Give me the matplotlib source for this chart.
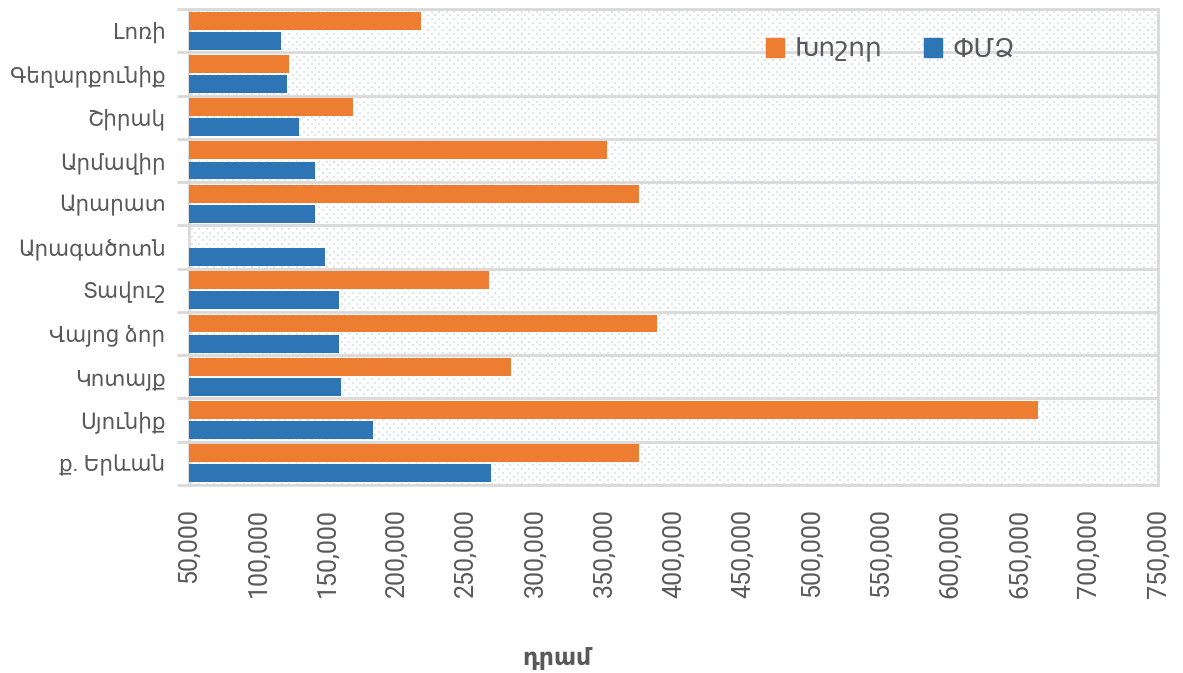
import numpy as np
import matplotlib
matplotlib.use("Agg")
import matplotlib.pyplot as plt
from matplotlib.patches import Patch
from matplotlib.ticker import FuncFormatter

plt.rcParams['font.family'] = ['Roboto', 'DejaVu Sans']

# ---- data ----
categories = ["Լոռի", "Գեղարքունիք", "Շիրակ", "Արմավիր", "Արարատ", "Արագածոտն",
              "Տավուշ", "Վայոց ձոր", "Կոտայք", "Սյունիք", "ք. Երևան"]
large = [217800, 122300, 168600, 352300, 375400, np.nan,
         266900, 388400, 282800, 663200, 375400]          # Խոշոր
sme = [116500, 120900, 129500, 141100, 141100, 148300,
       158500, 158500, 159900, 183100, 268400]            # ՓՄՁ
series_names = ["Խոշոր", "ՓՄՁ"]
xticks = list(range(50000, 750001, 50000))
xlabel = "դրամ"

ORANGE = "#ED7D31"
BLUE = "#2E75B6"
TXT = "#595959"
GRID = "#D9D9D9"

W, H = 1183, 673
fig = plt.figure(figsize=(W / 100, H / 100), dpi=100)
L, R, T, B = 189, 1158, 9, 485
ax = fig.add_axes([L / W, (H - B) / H, (R - L) / W, (B - T) / H])

# dotted background texture
aw, ah = R - L, B - T
bg = np.ones((ah, aw, 3))
dot = np.array([218, 230, 244]) / 255.0
per = 7.5
ys = np.arange(0, ah, per / 2)
for k, yy in enumerate(ys):
    off = 0 if k % 2 == 0 else per / 2
    for xx in np.arange(off, aw, per):
        yi, xi = int(yy) + 2, int(xx) + 2
        bg[yi:yi + 2, xi:xi + 2] = dot
ax.imshow(bg, extent=[0, 1, 0, 1], transform=ax.transAxes, aspect='auto',
          interpolation='nearest', zorder=0)

n = len(categories)
y = np.arange(n)
h = 0.415
off = 0.232
ax.barh(y - off, large, height=h, color=ORANGE, zorder=3, label=series_names[0])
ax.barh(y + off, sme, height=h, color=BLUE, zorder=3, label=series_names[1])

ax.set_xlim(50000, 750000)
ax.set_ylim(n - 0.5, -0.5)

ax.set_xticks(xticks)
ax.xaxis.set_major_formatter(FuncFormatter(lambda v, p: f"{int(v):,}"))
ax.tick_params(axis='x', length=0, pad=17, labelsize=18, labelcolor=TXT,
               labelrotation=90)

ax.set_yticks(y)
ax.set_yticklabels(categories)
ax.tick_params(axis='y', which='major', length=0, pad=17, labelsize=15.5,
               labelcolor=TXT)
ax.set_yticks(np.arange(-0.5, n, 1), minor=True)
ax.tick_params(axis='y', which='minor', length=9, width=2, color=GRID)
ax.grid(axis='y', which='minor', color=GRID, linewidth=2, zorder=1)
ax.grid(axis='x', visible=False)
ax.set_axisbelow(True)

for s in ax.spines.values():
    s.set_color(GRID)
    s.set_linewidth(2)

handles = [Patch(color=ORANGE, label=series_names[0]),
           Patch(color=BLUE, label=series_names[1])]
leg = fig.legend(handles=handles, loc='center', ncol=2, frameon=False,
                 bbox_to_anchor=(890.5 / W, (H - 50) / H), bbox_transform=fig.transFigure,
                 fontsize=19, handlelength=0.68, handleheight=0.68,
                 handletextpad=0.42, columnspacing=1.55, labelcolor=TXT)

fig.text(557 / W, (H - 665) / H, xlabel, ha='center', va='baseline',
         fontsize=17, fontweight='bold', color=TXT)

fig.savefig("out.png", dpi=100)
